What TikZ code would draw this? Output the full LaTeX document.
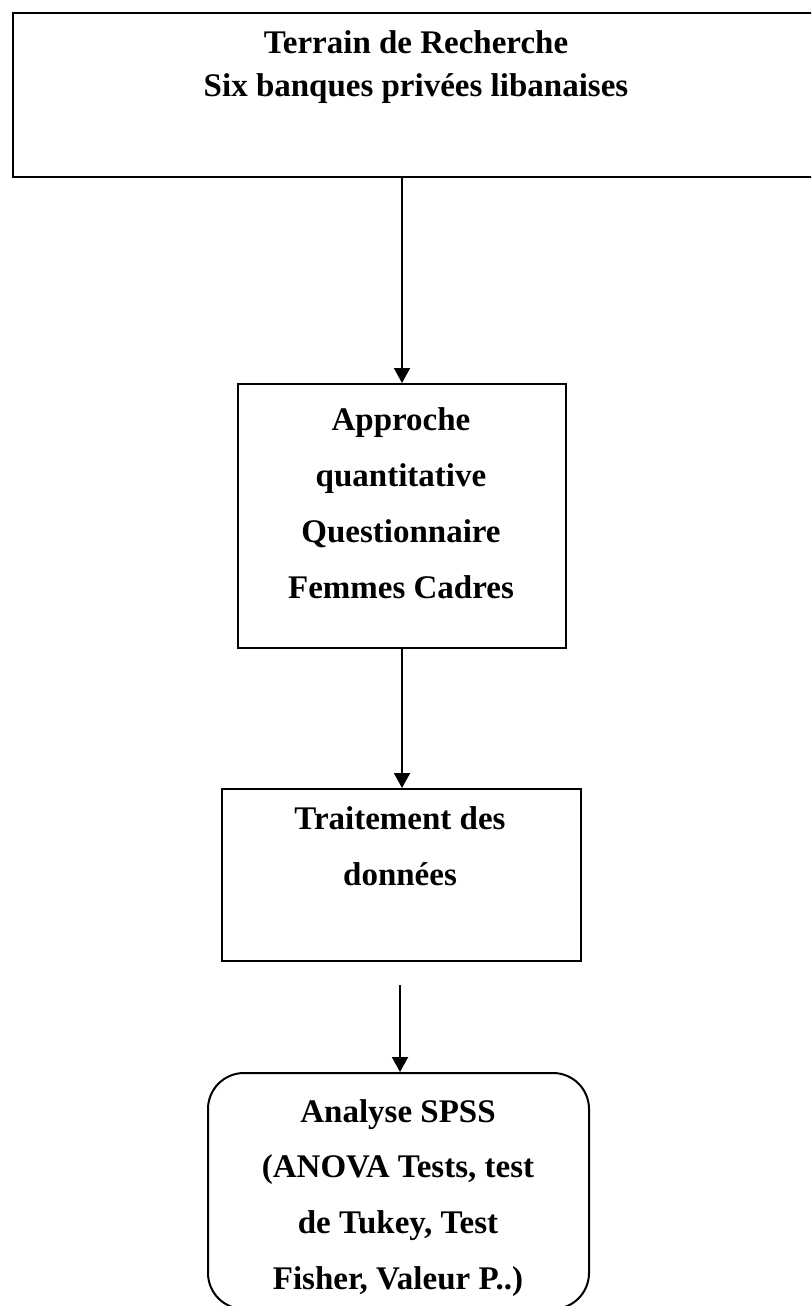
\documentclass[tikz,border=0pt]{standalone}
\usepackage{fontspec}
\setmainfont{Liberation Serif}
\usetikzlibrary{arrows.meta}
\begin{document}
\begin{tikzpicture}[x=0.5pt,y=-0.5pt,
  box/.style={draw,line width=1pt,inner sep=0pt,anchor=north west},
  lbl/.style={font=\bfseries\fontsize{16.5}{20}\selectfont,anchor=base,inner sep=0pt},
  arr/.style={line width=1pt,-{Triangle[length=7.5pt,width=8pt]}}]
\useasboundingbox (0,0) rectangle (811,1306);
\clip (0,0) rectangle (811,1306);
\node[box,minimum width=409pt,minimum height=82pt] (b1) at (12,12) {};
\node[box,minimum width=164pt,minimum height=132pt] (b2) at (237,383) {};
\node[box,minimum width=179.5pt,minimum height=86pt] (b3) at (221,788) {};
\node[box,rounded corners=18pt,minimum width=190.5pt,minimum height=118pt] (b4) at (207,1072) {};
\coordinate (s3) at (400,985);
\node[lbl] (t1a) at (416,53) {Terrain de Recherche};
\node[lbl] (t1b) at (416,96) {Six banques privées libanaises};
\node[lbl] (t2a) at (401,430) {Approche};
\node[lbl] (t2b) at (401,486) {quantitative};
\node[lbl] (t2c) at (401,542) {Questionnaire};
\node[lbl] (t2d) at (401,598) {Femmes Cadres};
\node[lbl] (t3a) at (400,829) {Traitement des};
\node[lbl] (t3b) at (400,885) {données};
\node[lbl] (t4a) at (398,1122) {Analyse SPSS};
\node[lbl] (t4b) at (398,1177) {(ANOVA Tests, test};
\node[lbl] (t4c) at (398,1233) {de Tukey, Test};
\node[lbl] (t4d) at (398,1289) {Fisher, Valeur P..)};
\draw[arr] (b1.south -| b2.north) -- (b2.north);
\draw[arr] (b2.south) -- (b2.south |- b3.north);
\draw[arr] (s3) -- (s3 |- b4.north);
\end{tikzpicture}
\end{document}
